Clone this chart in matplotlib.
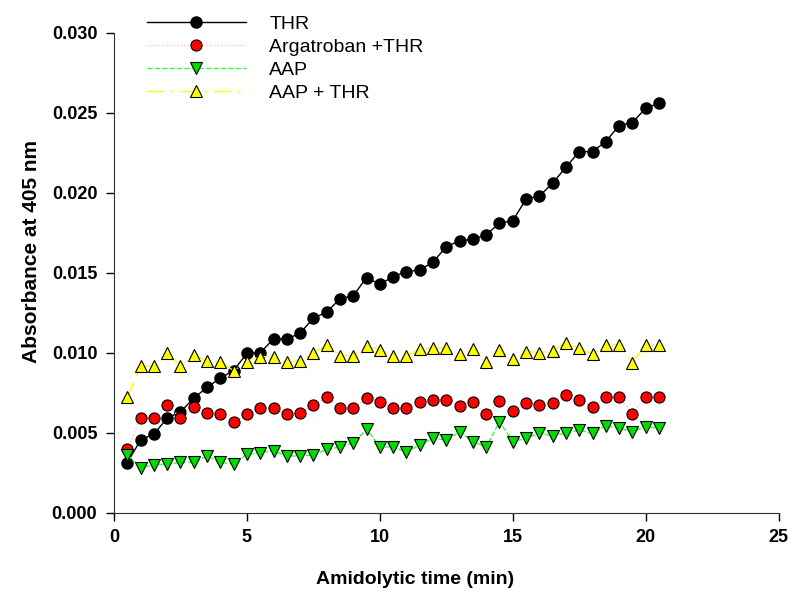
import matplotlib.pyplot as plt

plt.rcParams['font.family'] = ['Liberation Sans', 'DejaVu Sans']

# time points (min)
time = [0.5 * i for i in range(1, 42)]

thr = [0.00313, 0.00454, 0.00492, 0.0059, 0.0063, 0.00715, 0.00784, 0.0084, 0.00888, 0.00996,
       0.0100, 0.01085, 0.01085, 0.01122, 0.01215, 0.01254, 0.01336, 0.01356, 0.01469, 0.01427,
       0.01475, 0.01506, 0.01517, 0.01565, 0.01663, 0.01698, 0.01709, 0.01736, 0.01809, 0.01825,
       0.01959, 0.01979, 0.02059, 0.02159, 0.02256, 0.02256, 0.02319, 0.02419, 0.02438, 0.02527,
       0.02559]

argatroban_thr = [0.00396, 0.00594, 0.00594, 0.00673, 0.00594, 0.00663, 0.00625, 0.00615, 0.00569, 0.00615,
                  0.00652, 0.00652, 0.00615, 0.00625, 0.00673, 0.00725, 0.00652, 0.00652, 0.00715, 0.00694,
                  0.00652, 0.00652, 0.00694, 0.00704, 0.00704, 0.00667, 0.00694, 0.00615, 0.00698, 0.00636,
                  0.00684, 0.00673, 0.00684, 0.00736, 0.00704, 0.00663, 0.00725, 0.00725, 0.00615, 0.00725,
                  0.00725]

aap = [0.0036, 0.00281, 0.00298, 0.00304, 0.00315, 0.00315, 0.00354, 0.00315, 0.00304, 0.00365,
       0.00375, 0.00386, 0.00354, 0.00354, 0.0036, 0.00396, 0.0041, 0.00434, 0.00523, 0.0041,
       0.0041, 0.0038, 0.00423, 0.00465, 0.00454, 0.00506, 0.00444, 0.0041, 0.00569, 0.00444,
       0.00465, 0.00496, 0.00481, 0.00496, 0.00517, 0.00496, 0.00544, 0.00527, 0.00506, 0.00538,
       0.00527]

aap_thr = [0.00721, 0.00917, 0.00917, 0.00996, 0.00917, 0.00986, 0.00948, 0.0094, 0.00888, 0.0094,
           0.00975, 0.00975, 0.0094, 0.0095, 0.0100, 0.01048, 0.00981, 0.0098, 0.01042, 0.01017,
           0.0098, 0.0098, 0.0102, 0.0103, 0.0103, 0.0099, 0.0102, 0.00944, 0.01017, 0.00959,
           0.01006, 0.0100, 0.0101, 0.01063, 0.01027, 0.0099, 0.01048, 0.01048, 0.00938, 0.01048,
           0.01048]

fig = plt.figure(figsize=(7.94, 5.92), dpi=100)
ax = fig.add_axes([0.1436, 0.134, 0.837, 0.811])

ax.plot(time, thr, '-', color='black', lw=1, marker='o', ms=8,
        mfc='black', mec='black', label='THR')
ax.plot(time, argatroban_thr, ':', color='#ffc0cb', lw=1, marker='o', ms=8,
        mfc='#ff0000', mec='black', mew=0.8, label='Argatroban +THR')
ax.plot(time, aap, '--', color='#33ff33', lw=1, marker='v', ms=8,
        mfc='#00dd00', mec='black', mew=0.8, label='AAP')
ax.plot(time, aap_thr, color='#ffff00', lw=1, dashes=(12, 5, 2, 5), marker='^', ms=8,
        mfc='#ffff00', mec='black', mew=0.8, label='AAP + THR')

ax.set_xlim(0, 25)
ax.set_ylim(0, 0.030)
ax.set_xticks([0, 5, 10, 15, 20, 25])
ax.set_yticks([0, 0.005, 0.010, 0.015, 0.020, 0.025, 0.030])
ax.set_yticklabels(['0.000', '0.005', '0.010', '0.015', '0.020', '0.025', '0.030'])

for s in ['top', 'right']:
    ax.spines[s].set_visible(False)
for s in ['left', 'bottom']:
    ax.spines[s].set_color('#333333')
ax.tick_params(direction='out', length=6, width=1, labelsize=13, pad=6)
for lab in ax.get_xticklabels() + ax.get_yticklabels():
    lab.set_fontweight('bold')

ax.set_xlabel('Amidolytic time (min)', fontsize=14, fontweight='bold')
ax.set_ylabel('Absorbance at 405 nm', fontsize=15, fontweight='bold')
ax.xaxis.set_label_coords(0.453, -0.122)
ax.yaxis.set_label_coords(-0.11, 0.545)

fig.legend(loc='upper left', bbox_to_anchor=(0.185, 0.974), frameon=False,
           fontsize=14, handlelength=5.1, handletextpad=1.2, labelspacing=0.28,
           borderpad=0, borderaxespad=0, numpoints=1)

fig.savefig('out.png', dpi=100)
